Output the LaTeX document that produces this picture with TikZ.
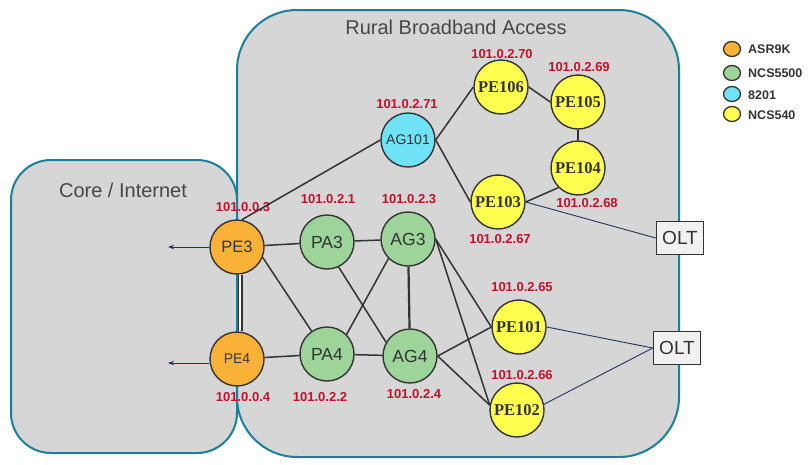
\documentclass[tikz,border=0pt]{standalone}
\usepackage{fontspec}
\setmainfont{Liberation Sans}
\newfontfamily\serifb{Liberation Serif}
\usetikzlibrary{arrows.meta,shapes.geometric}
\definecolor{boxfill}{HTML}{D6D6D6}
\definecolor{boxline}{HTML}{1A7F9A}
\definecolor{ipred}{HTML}{C4102A}
\definecolor{txt}{HTML}{333333}
\definecolor{orangeN}{HTML}{F9B237}
\definecolor{greenN}{HTML}{9CD49A}
\definecolor{cyanN}{HTML}{6FE2F6}
\definecolor{yellowN}{HTML}{FFFF4F}
\definecolor{navy}{HTML}{1D3558}
\definecolor{linkc}{HTML}{333333}
\definecolor{oltfill}{HTML}{F1F1F1}
\tikzset{
  area/.style={fill=boxfill, draw=boxline, line width=2pt},
  dev/.style={circle, draw=linkc, line width=1.4pt, minimum size=54pt, inner sep=0pt, text=txt},
  asr/.style={dev, fill=orangeN, font=\fontsize{16.5}{18}\selectfont},
  ncs/.style={dev, fill=greenN, font=\fontsize{17.5}{19}\selectfont},
  cyn/.style={dev, fill=cyanN, font=\fontsize{14}{16}\selectfont},
  yel/.style={dev, fill=yellowN, font=\serifb\bfseries\fontsize{16.5}{18}\selectfont},
  ip/.style={text=ipred, font=\bfseries\fontsize{13}{15}\selectfont, inner sep=0pt},
  lk/.style={draw=linkc, line width=1.5pt},
  thin/.style={draw=navy, line width=0.9pt},
  olt/.style={draw=linkc, fill=oltfill, line width=1.6pt, minimum width=47pt, minimum height=33pt, inner sep=0pt, text=txt, font=\fontsize{19}{21}\selectfont},
  legdot/.style={ellipse, draw=linkc, line width=1.3pt, minimum width=17pt, minimum height=15pt, inner sep=0pt},
  legtxt/.style={anchor=west, inner sep=0pt, text=txt, font=\bfseries\fontsize{12.5}{14}\selectfont},
  title/.style={text=txt!90, font=\fontsize{20}{22}\selectfont, inner sep=0pt}
}
\begin{document}
\begin{tikzpicture}[x=1pt, y=-1pt]
\useasboundingbox (0,0) rectangle (808,464);
% areas
\draw[area, rounded corners=40pt] (11,160) rectangle (237,453);
\draw[area, rounded corners=60pt] (237,10) rectangle (679,457);
\node[title] (t1) at (456,27) {Rural Broadband Access};
\node[title] (t2) at (123,190) {Core / Internet};
% nodes
\node[asr] (PE3) at (237,247) {PE3};
\node[asr, font=\fontsize{14}{16}\selectfont] (PE4) at (237,359) {PE4};
\node[ncs] (PA3) at (327,242) {PA3};
\node[ncs] (AG3) at (408,239) {AG3};
\node[ncs] (PA4) at (327,354) {PA4};
\node[ncs] (AG4) at (410,356) {AG4};
\node[cyn] (AG101) at (408,140) {AG101};
\node[yel] (PE106) at (501,87) {PE106};
\node[yel] (PE105) at (578,102) {PE105};
\node[yel] (PE104) at (578,168) {PE104};
\node[yel] (PE103) at (498,202) {PE103};
\node[yel] (PE101) at (519,327) {PE101};
\node[yel] (PE102) at (517,410) {PE102};
\node[olt] (OLT1) at (680,238) {OLT};
\node[olt] (OLT2) at (677,348) {OLT};
\coordinate (c3) at (168,247);
\coordinate (c4) at (168,363);
% labels
\node[ip] (l1) at (243,207) {101.0.0.3};
\node[ip] (l2) at (243,397) {101.0.0.4};
\node[ip] (l3) at (328,199) {101.0.2.1};
\node[ip] (l4) at (409,199) {101.0.2.3};
\node[ip] (l5) at (407,104) {101.0.2.71};
\node[ip] (l6) at (502,54) {101.0.2.70};
\node[ip] (l7) at (579,67) {101.0.2.69};
\node[ip] (l8) at (500,239) {101.0.2.67};
\node[ip] (l9) at (587,203) {101.0.2.68};
\node[ip] (l10) at (522,287) {101.0.2.65};
\node[ip] (l11) at (522,375) {101.0.2.66};
\node[ip] (l12) at (320,397) {101.0.2.2};
\node[ip] (l13) at (414,394) {101.0.2.4};
% connectors
\draw[lk] (PE3.80) -- (AG101.west);
\draw[lk] (PE3) -- (PA3);
\draw[lk] (PE3.-22) -- (PA4.124);
\draw[lk, double=white, double distance=2.6pt, line width=1.2pt] ([xshift=3pt]PE3.south) -- ([xshift=3pt]PE4.north);
\draw[lk] (PE4) -- (PA4);
\draw[lk] (PA3) -- (AG3);
\draw[lk] (PA3.-65) -- (AG4.150);
\draw[lk] (PA4.45) -- (AG3.-135);
\draw[lk] (PA4) -- (AG4);
\draw[lk, line width=2.2pt] (AG3) -- (AG4);
\draw[lk] (AG3.east) -- (PE101.west);
\draw[lk] (AG3.east) -- (PE102.170);
\draw[lk] (AG4.east) -- (PE101.west);
\draw[lk] (AG4.east) -- (PE102.170);
\draw[lk] (AG101.east) -- (PE106.west);
\draw[lk] (AG101.east) -- (PE103.west);
\draw[lk] (PE106.east) -- (PE105.west);
\draw[lk] (PE105) -- (PE104);
\draw[lk] (PE103.east) -- (PE104.225);
\draw[thin] (PE103.east) -- (OLT1.west);
\draw[thin] (PE101.east) -- (OLT2.west);
\draw[thin] (PE102.12) -- (OLT2.west);
\draw[thin, -{Stealth[length=6pt, width=4.5pt]}] (PE3.west) -- (c3);
\draw[thin, -{Stealth[length=6pt, width=4.5pt]}] (PE4.west |- c4) -- (c4);
% legend
\node[legdot, fill=orangeN] (d1) at (732,49) {};
\node[legdot, fill=greenN] (d2) at (732,73) {};
\node[legdot, fill=cyanN] (d3) at (732,94) {};
\node[legdot, fill=yellowN] (d4) at (732,114) {};
\node[legtxt] (e1) at (748,49) {ASR9K};
\node[legtxt] (e2) at (748,73) {NCS5500};
\node[legtxt] (e3) at (748,95) {8201};
\node[legtxt] (e4) at (748,115) {NCS540};
\end{tikzpicture}
\end{document}
